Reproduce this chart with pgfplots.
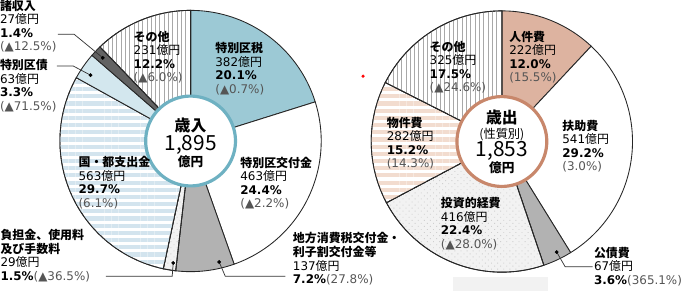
\documentclass[border=0pt]{standalone}
\usepackage{fontspec}
\setmainfont{DejaVu Sans}
\newfontfamily\cjk{Noto Sans CJK JP}
\usepackage{pgfplots}
\pgfplotsset{compat=1.18}
\usetikzlibrary{patterns.meta}

\definecolor{tokubetsu}{HTML}{9CC9D5}
\definecolor{teal1}{HTML}{6EB1C2}
\definecolor{lblue}{HTML}{D3E7EE}
\definecolor{stripeb}{HTML}{D3E4EE}
\definecolor{dgray}{HTML}{626262}
\definecolor{mgray}{HTML}{B2B2B2}
\definecolor{salmon}{HTML}{DDB3A0}
\definecolor{brown1}{HTML}{C8876B}
\definecolor{beige}{HTML}{F2DCCF}
\definecolor{dotbg}{HTML}{F2F2F2}
\definecolor{dotfg}{HTML}{CFCFCF}
\definecolor{vstripe}{HTML}{A8A8A8}
\definecolor{txtgray}{HTML}{555555}
\definecolor{lead}{HTML}{333333}

% one pie slice: cx, cy, cumulative start, cumulative end, total, style
\newcommand\slice[6]{%
  \pgfmathsetmacro\aS{90-360*(#3/#5)}%
  \pgfmathsetmacro\aE{90-360*(#4/#5)}%
  \addplot[#6, domain=\aE:\aS, samples=60, variable=\t]
    ({#1+128*cos(\t)},{#2-128*sin(\t)}) -- (axis cs:#1,#2) -- cycle;
}
\newcommand\J[1]{{\cjk #1}}
\newcommand\JB[1]{{\cjk\bfseries #1}}
\newcommand\G[1]{{\color{txtgray}#1}}
\newcommand\lf{\fontsize{8.3}{9.4}\selectfont}
\tikzset{
  edge/.style={draw=black!85, line width=0.6pt},
  hstripeB/.style={fill=white, postaction={pattern={Lines[angle=0,distance=5pt,line width=2.9pt]}, pattern color=stripeb}},
  hstripeR/.style={fill=white, postaction={pattern={Lines[angle=0,distance=5pt,line width=2.9pt]}, pattern color=beige}},
  vstripe/.style={fill=white, postaction={pattern={Lines[angle=90,distance=3pt,line width=0.4pt]}, pattern color=vstripe}},
  dots/.style={fill=dotbg, postaction={pattern={Dots[radius=0.45pt,distance=3pt,angle=45]}, pattern color=dotfg}},
  lbl/.style={anchor=west, align=left, inner sep=0pt, font=\lf},
}

\begin{document}
\begin{tikzpicture}
\begin{axis}[width=17cm, height=7.2537cm, scale only axis,
  xmin=0, xmax=682, ymin=0, ymax=291, y dir=reverse,
  hide axis, clip=false]

% faint arrow at bottom
\addplot[fill=black!5, draw=none] coordinates {(450,278) (543,278) (543,291) (450,291)} -- cycle;

% ---- revenue (amounts, 100 million yen): 382,463,137,29,563,63,27,231 ; total 1895
\slice{193}{144.5}{0}{382}{1895}{edge, fill=tokubetsu}
\slice{193}{144.5}{382}{845}{1895}{edge, fill=white}
\slice{193}{144.5}{845}{982}{1895}{edge, fill=mgray}
\slice{193}{144.5}{982}{1011}{1895}{edge, dots}
\slice{193}{144.5}{1011}{1574}{1895}{edge, hstripeB}
\slice{193}{144.5}{1574}{1637}{1895}{edge, fill=lblue}
\slice{193}{144.5}{1637}{1664}{1895}{edge, fill=dgray}
\slice{193}{144.5}{1664}{1895}{1895}{edge, vstripe}

% ---- expenditure: 222,541,67,416,282,325 ; total 1853
\slice{498}{145}{0}{222}{1853}{edge, fill=salmon}
\slice{498}{145}{222}{763}{1853}{edge, fill=white}
\slice{498}{145}{763}{830}{1853}{edge, fill=mgray}
\slice{498}{145}{830}{1246}{1853}{edge, dots}
\slice{498}{145}{1246}{1528}{1853}{edge, hstripeR}
\slice{498}{145}{1528}{1853}{1853}{edge, vstripe}

% inner circles
\addplot[fill=white, draw=teal1, line width=2.2pt, domain=0:360, samples=120]
  ({193+44*cos(x)},{144.5-44*sin(x)}) -- cycle;
\addplot[fill=white, draw=brown1, line width=2.2pt, domain=0:360, samples=120]
  ({498+44*cos(x)},{145-44*sin(x)}) -- cycle;

% leader lines
\addplot[lead, line width=0.5pt] coordinates {(63,40) (79,40) (107,63)};
\addplot[lead, line width=0.5pt] coordinates {(62,71) (78,71) (95,80)};
\addplot[lead, line width=0.5pt] coordinates {(110,277) (175,277) (176,264)};
\addplot[lead, line width=0.5pt] coordinates {(221,263) (227,277) (286,277)};
\addplot[lead, line width=0.5pt] coordinates {(551.7,253.3) (560,267.7) (587,267.7)};
\addplot[only marks, mark=*, mark size=1.1pt, black] coordinates {(107,63) (95,80) (176,264) (221,263) (551.7,253.3)};
\addplot[only marks, mark=*, mark size=0.9pt, red] coordinates {(362,81)};

% center texts
\node[inner sep=0pt, font=\fontsize{11}{12}\selectfont\cjk\bfseries] at (axis cs:193,129) {歳入};
\node[inner sep=0pt, font=\fontsize{14.5}{15}\selectfont\cjk] at (axis cs:193,148) {1,895};
\node[inner sep=0pt, font=\fontsize{8.8}{10}\selectfont\cjk\bfseries] at (axis cs:193,164.5) {億円};
\node[inner sep=0pt, font=\fontsize{11}{12}\selectfont\cjk\bfseries] at (axis cs:498,121.5) {歳出};
\node[inner sep=0pt, font=\fontsize{8.5}{10}\selectfont\cjk] at (axis cs:498,137.7) {(性質別)};
\node[inner sep=0pt, font=\fontsize{14.5}{15}\selectfont\cjk] at (axis cs:498,154.5) {1,853};
\node[inner sep=0pt, font=\fontsize{8.8}{10}\selectfont\cjk\bfseries] at (axis cs:498,170.5) {億円};

% revenue labels
\node[lbl] at (axis cs:6,32) {\JB{諸収入}\\27\J{億円}\\\textbf{1.4\%}\\\G{(▲12.5\%)}};
\node[lbl] at (axis cs:6,90.5) {\JB{特別区債}\\63\J{億円}\\\textbf{3.3\%}\\\G{(▲71.5\%)}};
\node[lbl] at (axis cs:137,62.5) {\JB{その他}\\231\J{億円}\\\textbf{12.2\%}\\\G{(▲6.0\%)}};
\node[lbl] at (axis cs:217,73.5) {\JB{特別区税}\\382\J{億円}\\\textbf{20.1\%}\\\G{(▲0.7\%)}};
\node[lbl] at (axis cs:241.5,186) {\JB{特別区交付金}\\463\J{億円}\\\textbf{24.4\%}\\\G{(▲2.2\%)}};
\node[lbl] at (axis cs:293,260) {\JB{地方消費税交付金・}\\\JB{利子割交付金等}\\137\J{億円}\\\textbf{7.2\%}\G{(27.8\%)}};
\node[lbl] at (axis cs:83,185.5) {\JB{国・都支出金}\\563\J{億円}\\\textbf{29.7\%}\\\G{(6.1\%)}};
\node[lbl] at (axis cs:6.5,256.7) {\JB{負担金、使用料}\\\JB{及び手数料}\\29\J{億円}\\\textbf{1.5\%}\G{(▲36.5\%)}};

% expenditure labels
\node[lbl] at (axis cs:427,72.2) {\JB{その他}\\325\J{億円}\\\textbf{17.5\%}\\\G{(▲24.6\%)}};
\node[lbl] at (axis cs:505,62.5) {\JB{人件費}\\222\J{億円}\\\textbf{12.0\%}\\\G{(15.5\%)}};
\node[lbl] at (axis cs:557,149.7) {\JB{扶助費}\\541\J{億円}\\\textbf{29.2\%}\\\G{(3.0\%)}};
\node[lbl] at (axis cs:385,146.7) {\JB{物件費}\\282\J{億円}\\\textbf{15.2\%}\\\G{(14.3\%)}};
\node[lbl] at (axis cs:438,225.7) {\JB{投資的経費}\\416\J{億円}\\\textbf{22.4\%}\\\G{(▲28.0\%)}};
\node[lbl] at (axis cs:588,267.5) {\JB{公債費}\\67\J{億円}\\\textbf{3.6\%}\G{(365.1\%)}};

\end{axis}
\end{tikzpicture}
\end{document}
